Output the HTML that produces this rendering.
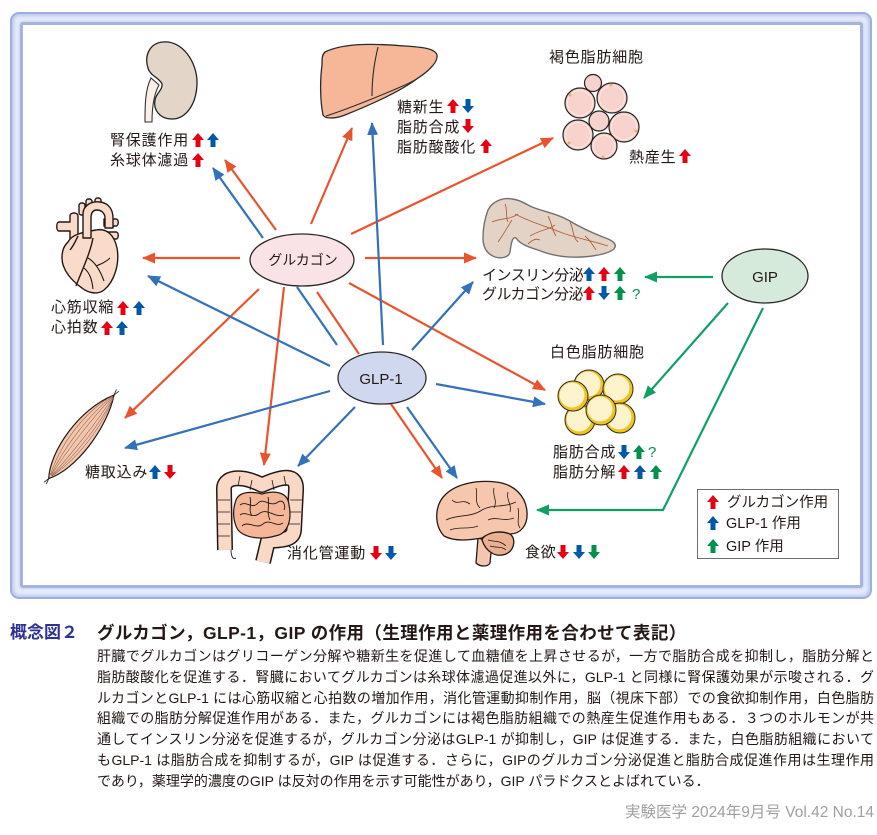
<!DOCTYPE html>
<html lang="ja">
<head>
<meta charset="utf-8">
<style>
  html,body{margin:0;padding:0;background:#fff;}
  body{width:877px;height:835px;position:relative;overflow:hidden;font-family:"Liberation Sans","Noto Sans CJK JP",sans-serif;}
  .abs{position:absolute;}
  .cap{position:absolute;left:97px;width:777px;font-size:14px;line-height:20.8px;height:20.8px;color:#231815;text-align:justify;text-align-last:justify;}
</style>
</head>
<body>
<!-- frame -->
<div class="abs" style="left:10px;top:12px;width:862px;height:587px;box-sizing:border-box;border-radius:9px;background:#e6ebf8;border:2.5px solid #9cafe0;box-shadow:inset 0 0 3px 2px #bcc8eb;"></div>
<div class="abs" style="left:20px;top:22px;width:843px;height:566px;box-sizing:border-box;border-radius:3px;background:#fff;border:3px solid #a3b4e2;box-shadow:0 0 2px 1px #c9d3ef;"></div>

<svg class="abs" style="left:0;top:0" width="877" height="600" viewBox="0 0 877 600" xmlns="http://www.w3.org/2000/svg">
  <defs>
    <marker id="mr" markerUnits="userSpaceOnUse" markerWidth="14" markerHeight="12" refX="12" refY="5.5" orient="auto"><path d="M0,0 L13,5.5 L0,11 z" fill="#e9542f"/></marker>
    <marker id="mb" markerUnits="userSpaceOnUse" markerWidth="14" markerHeight="12" refX="12" refY="5.5" orient="auto"><path d="M0,0 L13,5.5 L0,11 z" fill="#3471bb"/></marker>
    <marker id="mg" markerUnits="userSpaceOnUse" markerWidth="14" markerHeight="12" refX="12" refY="5.5" orient="auto"><path d="M0,0 L13,5.5 L0,11 z" fill="#11a064"/></marker>
    <symbol id="up" viewBox="0 0 12 14" width="12" height="14"><path d="M6,0 L12,7 L8.5,7 L8.5,14 L3.5,14 L3.5,7 L0,7 Z"/></symbol>
    <symbol id="dn" viewBox="0 0 12 14" width="12" height="14"><path d="M6,14 L12,7 L8.5,7 L8.5,0 L3.5,0 L3.5,7 L0,7 Z"/></symbol>
  </defs>

  <!-- ===== Kidney ===== -->
  <path d="M151,78 C145,90 145,106 145,122 L152,122 C152,106 154,94 159,85 Z" fill="#fbefe7" stroke="#333" stroke-width="1.1"/>
  <path d="M163,42 C182,40 197,62 197,82 C197,104 186,119 172,119 C160,119 153,110 155,100 C156,93 163,90 162,84 C160,78 150,76 148,68 C144,55 150,43 163,42 Z" fill="#e3d5c8" stroke="#222" stroke-width="1.3"/>

  <!-- ===== Liver ===== -->
  <path d="M325,52 C345,42 380,44 405,46 C420,47 435,48 437,55 C438,62 430,70 418,78 C400,92 370,105 345,115 C335,119 325,119 323,115 C320,100 320,80 322,65 C322,58 322,55 325,52 Z" fill="#f5b797" stroke="#2b2b2b" stroke-width="1.3"/>
  <path d="M378,47 C375,60 372,75 372,96" fill="none" stroke="#2b2b2b" stroke-width="1.1"/>
  <path d="M326,116 C345,110 380,96 405,85 C420,78 428,72 432,66" fill="none" stroke="#2b2b2b" stroke-width="1"/>

  <!-- ===== Brown fat ===== -->
  <g stroke="#222" stroke-width="1.2" fill="#f8d2cc">
    <circle cx="593" cy="83" r="8.5"/>
    <circle cx="612" cy="98" r="15"/>
    <circle cx="580" cy="103" r="15"/>
    <circle cx="624" cy="127" r="15"/>
    <circle cx="578" cy="135" r="15"/>
    <circle cx="604" cy="146" r="13"/>
    <circle cx="599" cy="121" r="10"/>
  </g>
  <g fill="none" stroke="#fbe6e2" stroke-width="1">
    <circle cx="612" cy="98" r="12.5"/><circle cx="580" cy="103" r="12.5"/><circle cx="624" cy="127" r="12.5"/><circle cx="578" cy="135" r="12.5"/><circle cx="604" cy="146" r="10.5"/>
  </g>
  <g fill="#f4a860"><circle cx="611" cy="85" r="1.5"/><circle cx="570" cy="95" r="1.5"/><circle cx="636" cy="131" r="1.5"/><circle cx="569" cy="143" r="1.5"/><circle cx="603" cy="157" r="1.5"/></g>

  <!-- ===== Heart ===== -->
  <g fill="#fadbca" stroke="#231815" stroke-width="1.4" stroke-linejoin="round">
    <rect x="79" y="203" width="6" height="12" rx="2.5"/>
    <rect x="86" y="199" width="6" height="12" rx="2.5"/>
    <rect x="95" y="198" width="6" height="12" rx="2.5"/>
    <path d="M104,219 L116,219 C119,219 119,226 116,226 L104,226 Z"/>
    <path d="M106,232 L116,232 C119,232 119,239 116,239 L106,239 Z"/>
    <path d="M59,222 L70,222 L70,216 C70,212 78,212 78,216 L78,258 L70,258 L70,231 L59,231 C56,231 56,222 59,222 Z"/>
    <path d="M68,242 C72,234 84,232 96,230 C106,228 114,234 117,248 C120,264 114,282 104,290 C98,295 88,293 82,288 C72,281 62,270 62,258 C62,250 64,246 68,242 Z"/>
    <path d="M83,238 L83,214 C83,205 92,201 100,202 C109,203 113,210 113,218 L113,228 L105,228 L105,218 C105,213 101,210 97,210 C93,210 91,213 91,218 L91,238 Z"/>
    <path d="M70,250 C74,245 76,240 78,236" fill="none"/>
    <path d="M93,238 C90,254 82,270 76,286" fill="none"/>
    <path d="M88,258 C95,262 100,270 104,281" fill="none" stroke-width="1.1"/>
    <path d="M84,268 C90,273 92,280 93,289" fill="none" stroke-width="1.1"/>
    <path d="M96,266 C101,264 106,262 110,258" fill="none" stroke-width="1"/>
  </g>

  <!-- ===== Pancreas ===== -->
  <path d="M488,210 C492,202 502,197 512,199 C520,200 524,203 532,207 C545,212 558,214 568,220 C578,226 590,232 603,237 C612,240 618,244 614,249 C608,254 596,256 582,257 C565,258 550,255 538,250 C528,247 520,244 516,238 C512,236 511,245 510,252 C509,257 502,259 495,257 C487,254 483,248 483,238 C483,228 485,218 488,210 Z" fill="#e3d3c6" stroke="#707070" stroke-width="1.4"/>
  <g fill="none" stroke="#b0603a" stroke-width="0.9">
    <path d="M492,222 C500,218 510,220 518,214"/>
    <path d="M498,242 C505,232 508,226 512,220"/>
    <path d="M515,214 C530,222 545,226 560,232 C575,238 590,240 608,246"/>
    <path d="M530,236 C540,230 548,230 555,225"/>
    <path d="M548,216 C552,224 552,230 556,236"/>
    <path d="M570,222 C574,230 572,236 578,242"/>
    <path d="M585,236 C590,240 592,244 596,250"/>
    <path d="M505,204 C508,210 505,216 508,222"/>
    <path d="M528,244 C532,240 536,238 540,240"/>
  </g>

  <!-- ===== Muscle ===== -->
  <g transform="translate(82,436) rotate(-52)">
    <path d="M-54,0 C-32,-16 20,-19 52,0 C22,15 -30,16 -54,0 Z" fill="#f3c7ae" stroke="#231815" stroke-width="1.2"/>
    <g fill="none" stroke="#8a5a45" stroke-width="0.5">
      <path d="M-50,-1 C-20,-12 20,-13 50,-1"/>
      <path d="M-50,-0.5 C-20,-7 20,-8 50,-0.5"/>
      <path d="M-50,0 C-20,-3 20,-3 50,0"/>
      <path d="M-50,0.5 C-20,3 20,3 50,0.5"/>
      <path d="M-50,1 C-20,7 20,7 50,1"/>
      <path d="M-50,1 C-20,11 20,10 50,1"/>
    </g>
    <g stroke="#231815" stroke-width="0.8"><path d="M-54,0 L-60,-1.5 M-54,0 L-60,1.5 M52,0 L58,-1.5 M52,0 L58,1.5"/></g>
  </g>

  <!-- ===== Intestines ===== -->
  <path d="M225,550 L224,490 C223,477 240,474 262,485 C282,476 297,473 296,490 L294,530 C293,541 280,540 268,541 L263,562" fill="none" stroke="#231815" stroke-width="16" stroke-linejoin="round"/>
  <path d="M225,550 L224,490 C223,477 240,474 262,485 C282,476 297,473 296,490 L294,530 C293,541 280,540 268,541 L263,562" fill="none" stroke="#f9d9c6" stroke-width="13" stroke-linejoin="round"/>
  <g stroke="#231815" stroke-width="0.8" fill="none">
    <path d="M218,500 L230,500 M218,512 L230,512 M218,524 L230,524 M218,536 L230,536 M290,500 L302,500 M289,512 L301,512 M289,524 L300,524 M240,476 L238,486 M252,480 L250,490 M272,480 L274,490 M284,476 L286,486"/>
  </g>
  <path d="M236,500 C240,490 255,492 262,494 C275,490 288,492 289,505 C292,520 288,534 275,536 C262,540 245,538 238,530 C232,520 233,508 236,500 Z" fill="#f4b696" stroke="#231815" stroke-width="1.2"/>
  <g fill="none" stroke="#231815" stroke-width="0.9">
    <path d="M240,505 C246,500 252,510 258,503 C264,497 270,508 278,502 C283,499 286,505 284,510"/>
    <path d="M240,515 C246,510 252,520 260,513 C268,508 274,518 284,515"/>
    <path d="M242,526 C248,520 256,530 263,524 C270,518 276,528 283,523"/>
    <path d="M250,497 C252,505 248,510 252,516"/>
    <path d="M268,497 C270,505 266,512 270,520"/>
    <path d="M231,550 C231,556 233,560 236,558"/>
  </g>

  <!-- ===== Brain ===== -->
  <g stroke="#231815" stroke-width="1.3" stroke-linejoin="round">
    <path d="M478,538 L476,563 C480,567 488,567 490,563 L492,542 Z" fill="#f4c6ad"/>
    <path d="M482,540 C485,532 500,530 510,534 C516,538 515,550 506,554 C496,558 486,552 482,540 Z" fill="#eab092"/>
    <path d="M444,536 C434,525 434,505 446,494 C458,483 478,480 496,482 C514,484 526,496 527,512 C528,526 520,534 510,534 C500,530 490,532 482,538 C470,540 455,542 444,536 Z" fill="#f6c7ac"/>
  </g>
  <g fill="none" stroke="#231815" stroke-width="0.8">
    <path d="M446,520 C458,514 470,518 482,510 C492,504 504,508 516,502"/>
    <path d="M452,500 C458,506 462,498 470,504"/>
    <path d="M476,488 C478,496 474,502 480,508"/>
    <path d="M494,488 C492,496 498,500 494,508"/>
    <path d="M508,492 C506,500 512,504 510,512"/>
    <path d="M450,530 C460,526 468,530 478,526"/>
    <path d="M488,520 C496,516 504,522 514,518"/>
    <path d="M518,508 C520,516 516,522 520,528"/>
    <path d="M488,540 C494,542 500,540 506,546 M490,546 C496,548 502,546 506,550"/>
  </g>

  <!-- ===== White fat ===== -->
  <g stroke="#2a2a2a" stroke-width="1">
    <circle cx="589" cy="385" r="15" fill="#f2c31c"/><circle cx="588" cy="384" r="12.5" fill="#fdf3cd" stroke="none"/>
    <circle cx="618" cy="389" r="15" fill="#f2c31c"/><circle cx="617" cy="388" r="12.5" fill="#fdf3cd" stroke="none"/>
    <circle cx="620" cy="418" r="15" fill="#f2c31c"/><circle cx="619" cy="417" r="12.5" fill="#fdf3cd" stroke="none"/>
    <circle cx="580" cy="420" r="15" fill="#f2c31c"/><circle cx="579" cy="419" r="12.5" fill="#fdf3cd" stroke="none"/>
    <circle cx="601" cy="410" r="15" fill="#f2c31c"/><circle cx="600" cy="409" r="12.5" fill="#fdf3cd" stroke="none"/>
    <circle cx="573" cy="396" r="15" fill="#f2c31c"/><circle cx="572" cy="395" r="12.5" fill="#fdf3cd" stroke="none"/>
  </g>

  <!-- ===== Connector lines ===== -->
  <g fill="none" stroke="#e9542f" stroke-width="2.2">
    <line x1="240" y1="258" x2="143" y2="258" marker-end="url(#mr)"/>
    <line x1="276" y1="230" x2="225" y2="160" marker-end="url(#mr)"/>
    <line x1="311" y1="224" x2="352" y2="128" marker-end="url(#mr)"/>
    <line x1="351" y1="234" x2="553" y2="138" marker-end="url(#mr)"/>
    <line x1="365" y1="258" x2="476" y2="258" marker-end="url(#mr)"/>
    <line x1="259" y1="289" x2="125" y2="418" marker-end="url(#mr)"/>
    <line x1="284" y1="287" x2="264" y2="465" marker-end="url(#mr)"/>
    <line x1="317" y1="292" x2="359" y2="354"/>
    <line x1="391" y1="404" x2="442" y2="478" marker-end="url(#mr)"/>
    <line x1="349" y1="283" x2="545" y2="390" marker-end="url(#mr)"/>
  </g>
  <g fill="none" stroke="#3471bb" stroke-width="2.2">
    <line x1="337" y1="345" x2="297" y2="287"/>
    <line x1="263" y1="238" x2="213" y2="168" marker-end="url(#mb)"/>
    <line x1="383" y1="345" x2="372" y2="123" marker-end="url(#mb)"/>
    <line x1="330" y1="366" x2="148" y2="276" marker-end="url(#mb)"/>
    <line x1="330" y1="391" x2="125" y2="448" marker-end="url(#mb)"/>
    <line x1="355" y1="407" x2="298" y2="466" marker-end="url(#mb)"/>
    <line x1="407" y1="407" x2="457" y2="478" marker-end="url(#mb)"/>
    <line x1="436" y1="384" x2="545" y2="404" marker-end="url(#mb)"/>
    <line x1="412" y1="350" x2="473" y2="282" marker-end="url(#mb)"/>
  </g>
  <g fill="none" stroke="#11a064" stroke-width="2.2">
    <line x1="713" y1="277" x2="645" y2="277" marker-end="url(#mg)"/>
    <line x1="728" y1="303" x2="644" y2="398" marker-end="url(#mg)"/>
    <polyline points="763,308 663,510 537,510" marker-end="url(#mg)"/>
  </g>

  <!-- ===== Hormone ellipses ===== -->
  <ellipse cx="302" cy="260" rx="52" ry="26" fill="#fae3e6" stroke="#2a2a2a" stroke-width="1.3"/>
  <text x="303" y="265" font-size="14" text-anchor="middle" fill="#231815" font-family="Liberation Sans, Noto Sans CJK JP, sans-serif">グルカゴン</text>
  <ellipse cx="382" cy="378" rx="44" ry="26" fill="#cfd8ee" stroke="#2a2a2a" stroke-width="1.3"/>
  <text x="381" y="384" font-size="15" text-anchor="middle" fill="#231815" font-family="Liberation Sans, sans-serif">GLP-1</text>
  <ellipse cx="765" cy="276" rx="43" ry="27" fill="#d5eadb" stroke="#2a2a2a" stroke-width="1.3"/>
  <text x="765" y="282" font-size="15" text-anchor="middle" fill="#231815" font-family="Liberation Sans, sans-serif">GIP</text>

  <!-- ===== Labels ===== -->
  <g font-size="15" fill="#231815" letter-spacing="0.8" font-family="Liberation Sans, Noto Sans CJK JP, sans-serif">
    <text x="110" y="145">腎保護作用</text>
    <text x="110" y="165">糸球体濾過</text>
    <text x="397" y="112">糖新生</text>
    <text x="397" y="132">脂肪合成</text>
    <text x="397" y="152">脂肪酸酸化</text>
    <text x="549" y="62">褐色脂肪細胞</text>
    <text x="629" y="162">熱産生</text>
    <text x="51" y="312">心筋収縮</text>
    <text x="51" y="332">心拍数</text>
    <text x="482" y="280" letter-spacing="-0.5">インスリン分泌</text>
    <text x="482" y="299" letter-spacing="-0.5">グルカゴン分泌</text>
    <text x="550" y="357">白色脂肪細胞</text>
    <text x="553" y="457">脂肪合成</text>
    <text x="553" y="477">脂肪分解</text>
    <text x="525" y="557">食欲</text>
    <text x="287" y="558">消化管運動</text>
    <text x="85" y="477">糖取込み</text>
  </g>
  <g font-size="15" fill="#00914a" font-family="Liberation Sans, sans-serif">
    <text x="632" y="299">?</text>
    <text x="648" y="457">?</text>
  </g>

  <!-- ===== small arrows ===== -->
  <use href="#up" x="192" y="133" fill="#e60012"/>
  <use href="#up" x="207" y="133" fill="#0058a8"/>
  <use href="#up" x="192" y="153" fill="#e60012"/>
  <use href="#up" x="447" y="99" fill="#e60012"/>
  <use href="#dn" x="462" y="99" fill="#0058a8"/>
  <use href="#dn" x="462" y="119" fill="#e60012"/>
  <use href="#up" x="480" y="139" fill="#e60012"/>
  <use href="#up" x="679" y="149" fill="#e60012"/>
  <use href="#up" x="117" y="301" fill="#e60012"/>
  <use href="#up" x="133" y="301" fill="#0058a8"/>
  <use href="#up" x="101" y="321" fill="#e60012"/>
  <use href="#up" x="116" y="321" fill="#0058a8"/>
  <use href="#up" x="583" y="267" fill="#0058a8"/>
  <use href="#up" x="598" y="267" fill="#e60012"/>
  <use href="#up" x="614" y="267" fill="#00914a"/>
  <use href="#up" x="583" y="286" fill="#e60012"/>
  <use href="#dn" x="598" y="286" fill="#0058a8"/>
  <use href="#up" x="614" y="286" fill="#00914a"/>
  <use href="#dn" x="618" y="445" fill="#0058a8"/>
  <use href="#up" x="633" y="445" fill="#00914a"/>
  <use href="#up" x="618" y="465" fill="#e60012"/>
  <use href="#up" x="634" y="465" fill="#0058a8"/>
  <use href="#up" x="650" y="465" fill="#00914a"/>
  <use href="#dn" x="557" y="545" fill="#e60012"/>
  <use href="#dn" x="573" y="545" fill="#0058a8"/>
  <use href="#dn" x="588" y="545" fill="#00914a"/>
  <use href="#dn" x="370" y="546" fill="#e60012"/>
  <use href="#dn" x="385" y="546" fill="#0058a8"/>
  <use href="#up" x="149" y="465" fill="#0058a8"/>
  <use href="#dn" x="164" y="465" fill="#e60012"/>

  <!-- ===== Legend ===== -->
  <rect x="697.5" y="489.5" width="141" height="69" fill="#fff" stroke="#6d6d6d" stroke-width="1"/>
  <use href="#up" x="707" y="495" fill="#e60012"/>
  <use href="#up" x="707" y="516" fill="#0058a8"/>
  <use href="#up" x="707" y="539" fill="#00914a"/>
  <g font-size="14.5" fill="#231815" font-family="Liberation Sans, Noto Sans CJK JP, sans-serif">
    <text x="727" y="507">グルカゴン作用</text>
    <text x="726" y="528">GLP-1 作用</text>
    <text x="726" y="551">GIP 作用</text>
  </g>
</svg>

<!-- ===== Caption ===== -->
<div class="abs" style="left:10px;top:621px;font-size:17px;font-weight:bold;line-height:24px;color:#2e3192;">概念図２</div>
<div class="abs" style="left:97px;top:621px;font-size:17.5px;font-weight:bold;line-height:24px;letter-spacing:0.4px;color:#231815;white-space:nowrap;">グルカゴン，GLP-1，GIP の作用（生理作用と薬理作用を合わせて表記）</div>

<div class="cap" style="top:646px;">肝臓でグルカゴンはグリコーゲン分解や糖新生を促進して血糖値を上昇させるが，一方で脂肪合成を抑制し，脂肪分解と</div>
<div class="cap" style="top:666.8px;">脂肪酸酸化を促進する．腎臓においてグルカゴンは糸球体濾過促進以外に，GLP-1 と同様に腎保護効果が示唆される．グ</div>
<div class="cap" style="top:687.6px;">ルカゴンとGLP-1 には心筋収縮と心拍数の増加作用，消化管運動抑制作用，脳（視床下部）での食欲抑制作用，白色脂肪</div>
<div class="cap" style="top:708.4px;">組織での脂肪分解促進作用がある．また，グルカゴンには褐色脂肪組織での熱産生促進作用もある．３つのホルモンが共</div>
<div class="cap" style="top:729.2px;">通してインスリン分泌を促進するが，グルカゴン分泌はGLP-1 が抑制し，GIP は促進する．また，白色脂肪組織において</div>
<div class="cap" style="top:750px;">もGLP-1 は脂肪合成を抑制するが，GIP は促進する．さらに，GIPのグルカゴン分泌促進と脂肪合成促進作用は生理作用</div>
<div class="cap" style="top:770.8px;text-align:left;text-align-last:left;">であり，薬理学的濃度のGIP は反対の作用を示す可能性があり，GIP パラドクスとよばれている．</div>

<div class="abs" style="left:560px;top:803px;width:314px;text-align:right;font-size:15.5px;line-height:20px;color:#9fa0a0;white-space:nowrap;">実験医学 2024年9月号 Vol.42 No.14</div>
</body>
</html>
